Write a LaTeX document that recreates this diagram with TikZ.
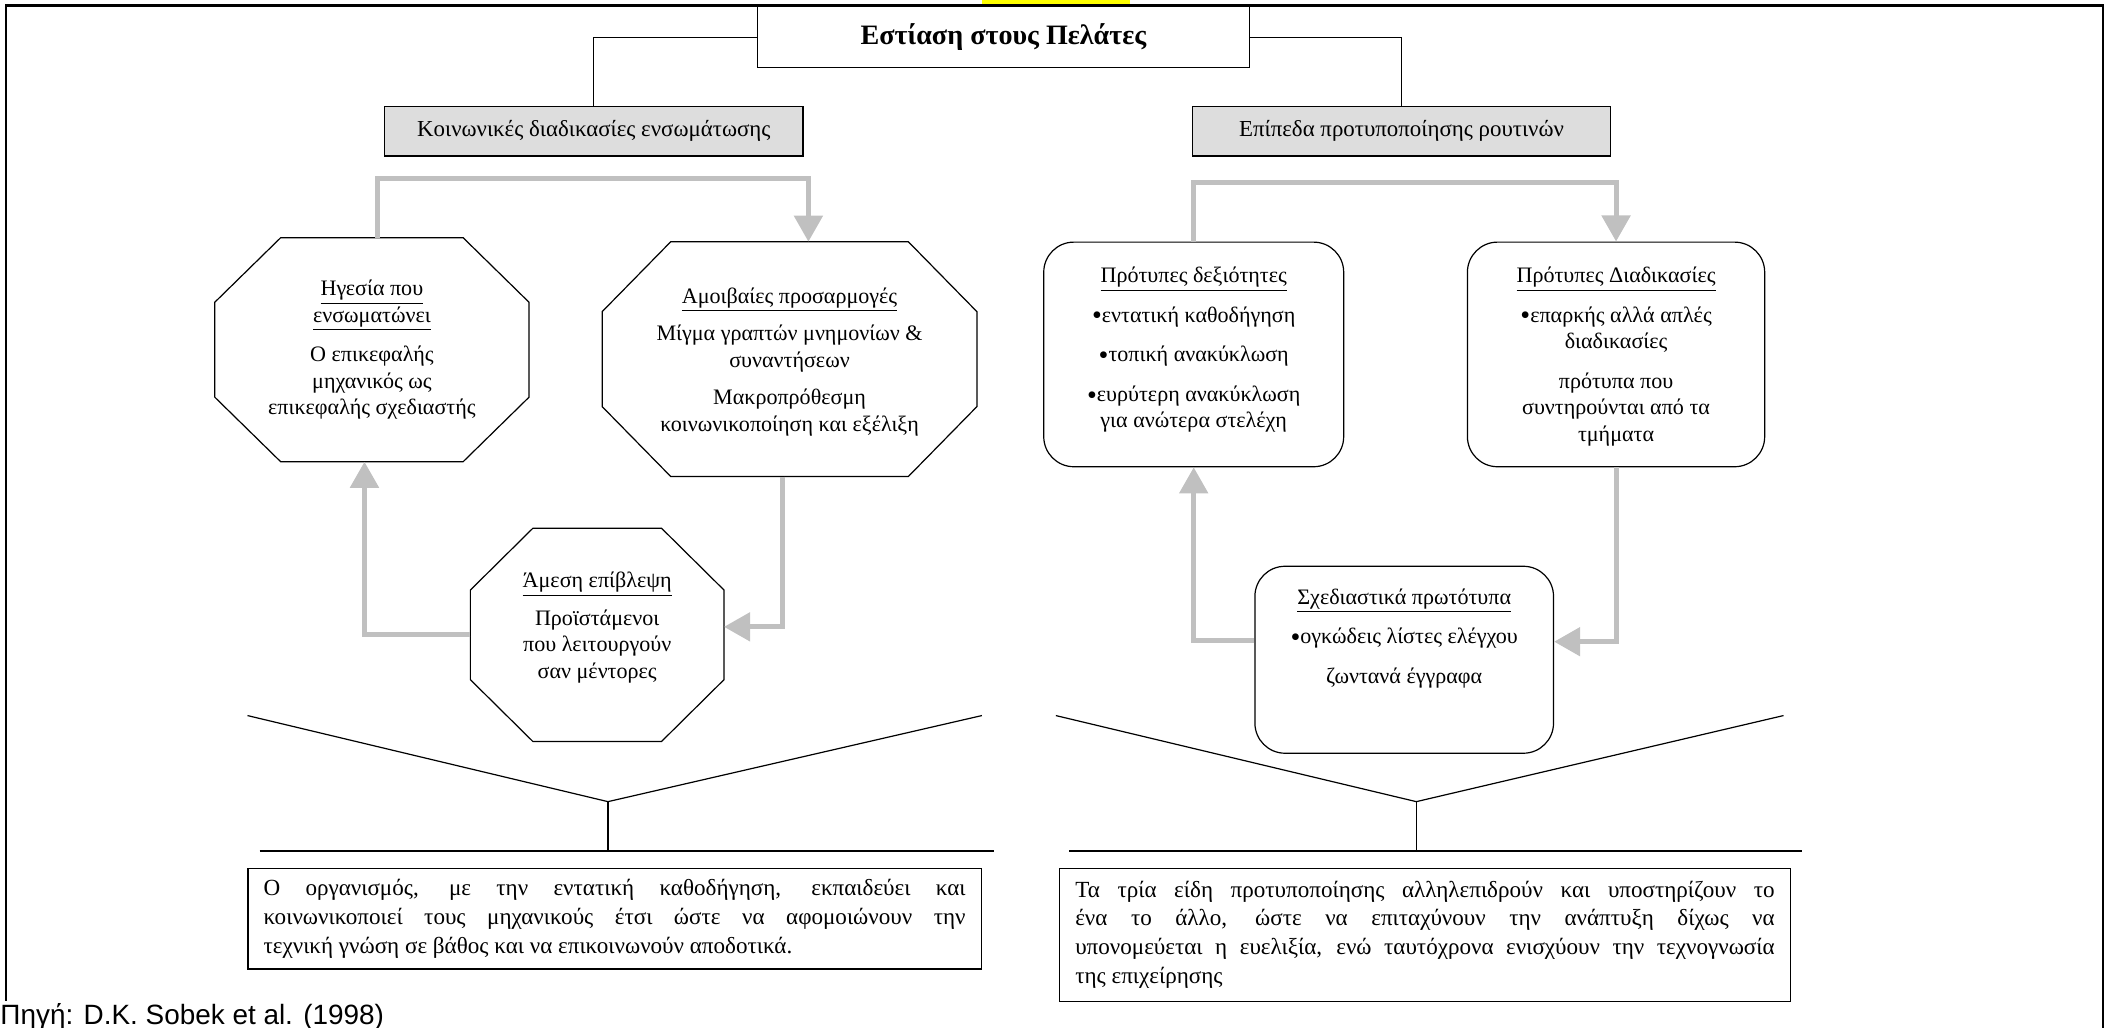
\documentclass[tikz,border=0pt]{standalone}
\usepackage{fontspec}
\setmainfont{Liberation Serif}
\newfontfamily\srcfont{Liberation Sans}
\usetikzlibrary{arrows.meta,calc}

\definecolor{boxgray}{RGB}{221,221,221}
\definecolor{arrowgray}{RGB}{192,192,192}
\definecolor{tabyellow}{RGB}{255,255,0}

\def\U{0.67pt}
\newdimen\bxw
\newcommand\bul{{\fontsize{14}{0}\selectfont\raisebox{-1.4pt}{•}}}

% octagon outline drawn on the bounding rectangle of a named node
\newcommand\octpath[3]{%
  \draw[outline] ($(#1.north west)+(#2,0)$) -- ($(#1.north east)+(-#2,0)$)
    -- ($(#1.north east)+(0,#3)$) -- ($(#1.south east)+(0,-#3)$)
    -- ($(#1.south east)+(-#2,0)$) -- ($(#1.south west)+(#2,0)$)
    -- ($(#1.south west)+(0,-#3)$) -- ($(#1.north west)+(0,#3)$) -- cycle;}

\tikzset{
  outline/.style={draw=black, line width=0.6pt},
  barline/.style={draw=black, line width=1pt},
  headbox/.style={outline, fill=white, minimum width=366*\U, minimum height=45*\U,
    inner sep=0pt, font=\fontsize{14}{16}\selectfont\bfseries},
  graybox/.style={outline, fill=boxgray, minimum width=311*\U, minimum height=37*\U,
    inner sep=0pt, font=\fontsize{11.4}{13}\selectfont},
  octnode/.style 2 args={minimum width=#1*\U, minimum height=#2*\U, inner sep=0pt},
  roundbox/.style 2 args={outline, rounded corners=15pt, minimum width=#1*\U,
    minimum height=#2*\U, inner sep=0pt},
  intext/.style={align=center, inner sep=0pt, font=\fontsize{11}{13.2}\selectfont},
  garrow/.style={draw=arrowgray, line width=2.5pt,
    -{Triangle[width=14pt,length=13pt]}},
  parabox/.style 2 args={outline, anchor=north west, minimum width=#1*\U,
    minimum height=#2*\U, inner sep=0pt, font=\fontsize{11.5}{14.4}\selectfont},
}

\begin{document}
\begin{tikzpicture}[x=0.67pt, y=-0.67pt]
\useasboundingbox (0,0) rectangle (1568,764);

% tab at the top edge and the page frame
\fill[tabyellow] (730,0) rectangle (840,3.5);
\draw[line width=1.35pt] (4.5,744) -- (4.5,4.2) -- (1563.5,4.2) -- (1563.5,764);

% heading and the two branches
\node[headbox] (title) at (746,27.6) {Εστίαση στους Πελάτες};
\node[graybox] (g1) at (441.5,97.5) {Κοινωνικές διαδικασίες ενσωμάτωσης};
\node[graybox] (g2) at (1042,97.5) {Επίπεδα προτυποποίησης ρουτινών};
\draw[outline] (title.west) -| (g1.north);
\draw[outline] (title.east) -| (g2.north);

% left cycle: octagons
\node[octnode={233}{166}] (o1) at (276.5,260) {};
\node[octnode={278}{174}] (o2) at (587,267) {};
\node[octnode={188}{158}] (o3) at (444,472) {};
\octpath{o1}{49}{48}
\octpath{o2}{51}{52}
\octpath{o3}{46.5}{46}

\node[intext] (o1t) at (o1.center) {\underline{Ηγεσία που}\\
  \underline{ενσωματώνει}\\[6.5pt]
  Ο επικεφαλής\\ μηχανικός ως\\ επικεφαλής σχεδιαστής};
\node[intext] (o2t) at ($(o2.center)+(0,2)$) {\underline{Αμοιβαίες προσαρμογές}\\[5.5pt]
  Μίγμα γραπτών μνημονίων \&\\ συναντήσεων\\[5.5pt]
  Μακροπρόθεσμη\\ κοινωνικοποίηση και εξέλιξη};
\node[intext] (o3t) at ($(o3.center)+(0,-5.5)$) {\underline{Άμεση επίβλεψη}\\[5.5pt]
  Προϊστάμενοι\\ που λειτουργούν\\ σαν μέντορες};

\draw[garrow] ([xshift=3pt]o1.north) -- ++(0,-44) -| ([xshift=9.4pt]o2.north);
\draw[garrow] ([xshift=-3.4pt]o2.south) |- ([yshift=4pt]o3.east);
\draw[garrow] (o3.west) -| ([xshift=-3.7pt]o1.south);

% right cycle: rounded boxes
\node[roundbox={223}{167}] (r1) at (887.5,263.5) {};
\node[roundbox={221}{167}] (r2) at (1201.5,263.5) {};
\node[roundbox={222}{139}] (r3) at (1044,490.5) {};

\node[intext] (r1t) at ($(r1.center)+(0,-3.5)$) {\underline{Πρότυπες δεξιότητες}\\[6.5pt]
  \bul εντατική καθοδήγηση\\[6.5pt] \bul τοπική ανακύκλωση\\[6.5pt]
  \bul ευρύτερη ανακύκλωση\\ για ανώτερα στελέχη};
\node[intext] (r2t) at ($(r2.center)+(0,1.5)$) {\underline{Πρότυπες Διαδικασίες}\\[6.5pt]
  \bul επαρκής αλλά απλές\\ διαδικασίες\\[6.5pt]
  πρότυπα που\\ συντηρούνται από τα\\ τμήματα};
\node[intext] (r3t) at ($(r3.center)+(0,-16)$) {\underline{Σχεδιαστικά πρωτότυπα}\\[6.5pt]
  \bul ογκώδεις λίστες ελέγχου\\[6.5pt] ζωντανά έγγραφα};

\draw[garrow] (r1.north) -- ++(0,-44) -| (r2.north);
\draw[garrow] (r2.south) |- ([yshift=9pt]r3.east);
\draw[garrow] ([yshift=9.7pt]r3.west) -| (r1.south);

% funnels gathering each side into its summary
\coordinate (lfa) at (184,532);
\coordinate (lfv) at (452,596);
\coordinate (lfb) at (730,532);
\coordinate (lb1) at (193,633);
\coordinate (lb2) at (739,633);
\draw[outline] (lfa) -- (lfv) -- (lfb);
\draw[outline] (lfv) -- (lfv |- lb1);
\draw[barline] (lb1) -- (lb2);

\coordinate (rfa) at (785,532);
\coordinate (rfv) at (1053,596);
\coordinate (rfb) at (1326,532);
\coordinate (rb1) at (795,633);
\coordinate (rb2) at (1340,633);
\draw[outline] (rfa) -- (rfv) -- (rfb);
\draw[outline] (rfv) -- (rfv |- rb1);
\draw[barline] (rb1) -- (rb2);

% summaries
\node[parabox={545}{75}] (bl) at (184,645) {\vbox{\bxw=349.7pt
  \hbox to\bxw{Ο οργανισμός, με την εντατική καθοδήγηση, εκπαιδεύει και}
  \hbox to\bxw{κοινωνικοποιεί τους μηχανικούς έτσι ώστε να αφομοιώνουν την}
  \hbox{τεχνική γνώση σε βάθος και να επικοινωνούν αποδοτικά.}}};
\node[parabox={544}{99}] (br) at (787,645) {\vbox{\bxw=348.4pt
  \hbox to\bxw{Τα τρία είδη προτυποποίησης αλληλεπιδρούν και υποστηρίζουν το}
  \hbox to\bxw{ένα το άλλο, ώστε να επιταχύνουν την ανάπτυξη δίχως να}
  \hbox to\bxw{υπονομεύεται η ευελιξία, ενώ ταυτόχρονα ενισχύουν την τεχνογνωσία}
  \hbox{της επιχείρησης}}};

% source line
\node[anchor=base west, inner sep=0pt, font=\srcfont\fontsize{13.9}{16}\selectfont]
  (src) at (0,762) {Πηγή: D.K. Sobek et al. (1998)};
\end{tikzpicture}
\end{document}
